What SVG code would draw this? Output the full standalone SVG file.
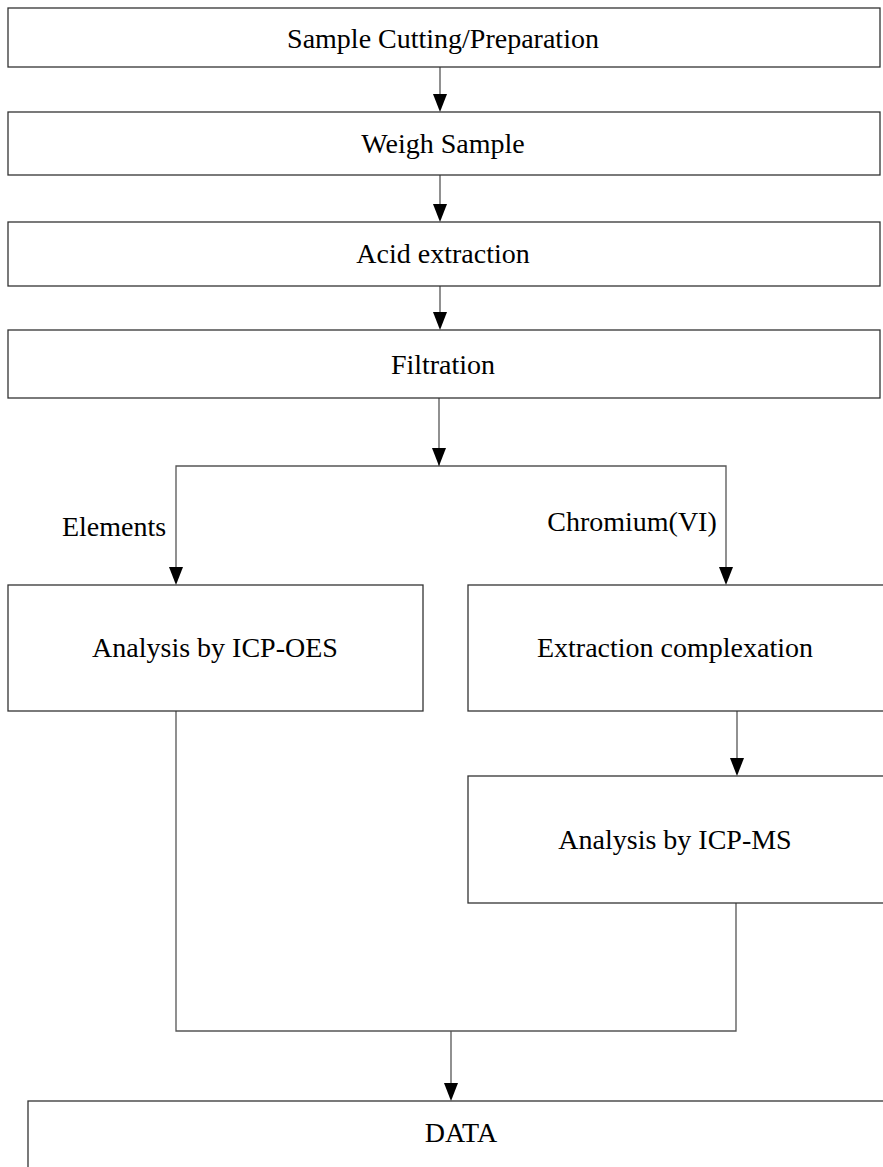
<svg xmlns="http://www.w3.org/2000/svg" width="883" height="1167" viewBox="0 0 883 1167">
<style>
.box{fill:#fff;stroke:#333;stroke-width:1.3}
.t{font-family:"Liberation Serif","Times New Roman",serif;font-size:28px;fill:#000;text-anchor:middle}
.c{fill:none;stroke:#555;stroke-width:1.3}
</style>
<rect width="883" height="1167" fill="#fff"/>
<g id="connectors">
<line class="c" x1="440" y1="67" x2="440" y2="100"/>
<line class="c" x1="440" y1="175" x2="440" y2="210"/>
<line class="c" x1="440" y1="286" x2="440" y2="318"/>
<line class="c" x1="439" y1="398" x2="439" y2="466"/>
<polyline class="c" points="176,575 176,466 726,466 726,575"/>
<line class="c" x1="737" y1="711" x2="737" y2="766"/>
<polyline class="c" points="176,711 176,1031 736,1031 736,903"/>
<line class="c" x1="451" y1="1031" x2="451" y2="1090"/>
<g id="arrowheads" fill="#000">
<path d="M433,94 L447,94 L440,112 Z"/>
<path d="M433,204 L447,204 L440,222 Z"/>
<path d="M433,312 L447,312 L440,330 Z"/>
<path d="M432,448 L446,448 L439,466 Z"/>
<path d="M169,567 L183,567 L176,585 Z"/>
<path d="M719,567 L733,567 L726,585 Z"/>
<path d="M730,758 L744,758 L737,776 Z"/>
<path d="M444,1083 L458,1083 L451,1101 Z"/>
</g>
</g>
<g id="n1"><rect class="box" x="8" y="8" width="872" height="59"/><text class="t" x="443" y="48">Sample Cutting/Preparation</text></g>
<g id="n2"><rect class="box" x="8" y="112" width="872" height="63"/><text class="t" x="443" y="153">Weigh Sample</text></g>
<g id="n3"><rect class="box" x="8" y="222" width="872" height="64"/><text class="t" x="443" y="263">Acid extraction</text></g>
<g id="n4"><rect class="box" x="8" y="330" width="872" height="68"/><text class="t" x="443" y="374">Filtration</text></g>
<g id="lbl1"><text class="t" x="114" y="536">Elements</text></g>
<g id="lbl2"><text class="t" x="632" y="531">Chromium(VI)</text></g>
<g id="n5"><rect class="box" x="8" y="585" width="415" height="126"/><text class="t" x="215" y="657">Analysis by ICP-OES</text></g>
<g id="n6"><rect class="box" x="468" y="585" width="420" height="126"/><text class="t" x="675" y="657">Extraction complexation</text></g>
<g id="n7"><rect class="box" x="468" y="776" width="420" height="127"/><text class="t" x="675" y="849">Analysis by ICP-MS</text></g>
<g id="n8"><rect class="box" x="28" y="1101" width="866" height="80"/><text class="t" x="461" y="1142">DATA</text></g>
</svg>
